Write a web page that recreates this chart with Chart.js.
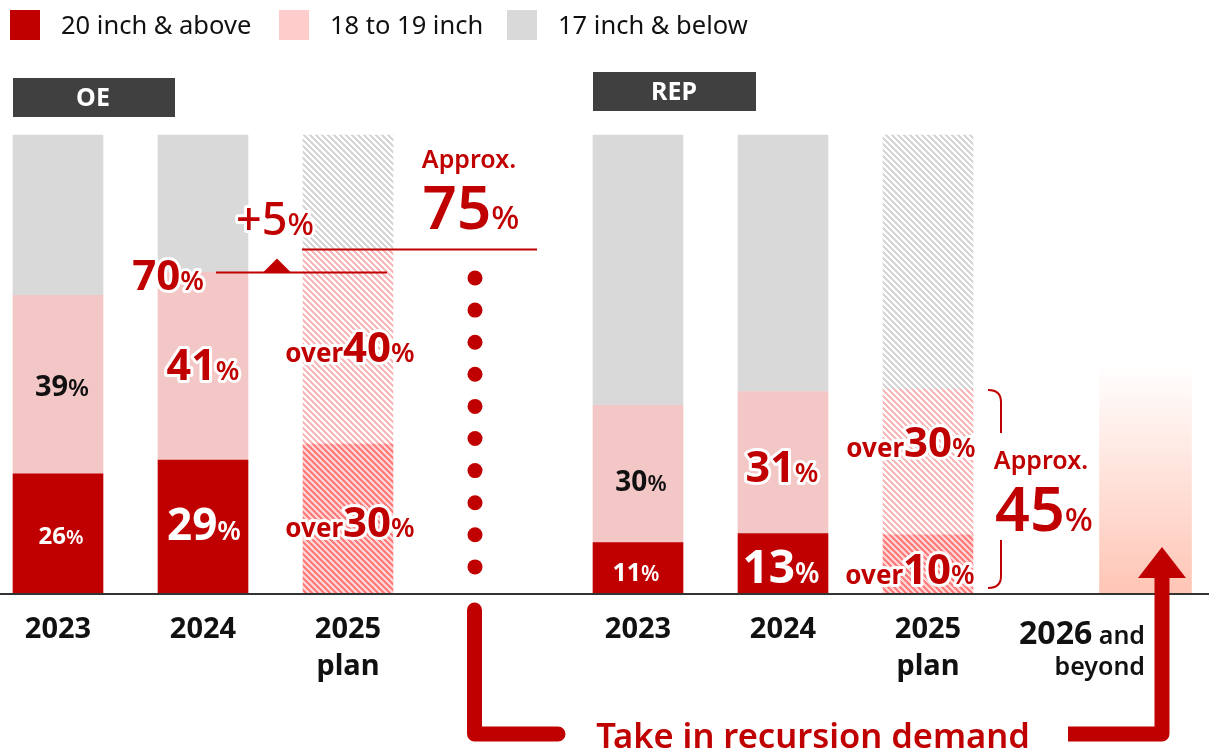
<!DOCTYPE html>
<html>
<head>
<meta charset="utf-8">
<script src="https://cdn.jsdelivr.net/npm/chart.js@4"></script>
<style>
  html, body { margin:0; padding:0; background:#fff; }
  #wrap { width:1209px; height:751px; position:relative; }
</style>
</head>
<body>
<div id="wrap"><canvas id="chart"></canvas></div>
<script>
// category slots, blanks are spacers between the groups
const xLabels = ['2023', '', '2024', '', '2025 plan', '', '', '', '2023', '', '2024', '', '2025 plan', '', '', '2026 and beyond'];
const inch20 = [26, null, 29, null, 32.5, null, null, null, 11, null, 13, null, 12.7, null, null, null];
const inch18 = [39, null, 41, null, 42.5, null, null, null, 30, null, 31, null, 31.8, null, null, null];
const inch17 = [35, null, 30, null, 25, null, null, null, 59, null, 56, null, 55.5, null, null, null];
const outlook = [null, null, null, null, null, null, null, null, null, null, null, null, null, null, null, 50];
const seriesNames = ['20 inch & above', '18 to 19 inch', '17 inch & below'];

const FONT = '"Noto Sans", "Open Sans", sans-serif';
const RED = '#C00000';

function stripes(line, bg) {
  const c = document.createElement('canvas');
  c.width = c.height = 6;
  const g = c.getContext('2d');
  for (let y = 0; y < 6; y++) {
    for (let x = 0; x < 6; x++) {
      const on = ((x - y + 12) % 6) < 3;
      if (on) { g.fillStyle = line; g.fillRect(x, y, 1, 1); }
      else if (bg) { g.fillStyle = bg; g.fillRect(x, y, 1, 1); }
    }
  }
  return g.createPattern(c, 'repeat');
}
const hatchRed = stripes('#FF7C7C', '#FFD4D4');
const hatchPink = stripes('#F6B8B8', '#FFFFFF');
const hatchGrey = stripes('#D6D6D6', '#FFFFFF');

const isPlan = i => xLabels[i] === '2025 plan';

function mixed(ctx, parts, x, y, o) {
  o = o || {};
  let total = 0;
  const w = parts.map(p => {
    ctx.font = `${p[2] || 'bold'} ${p[1]}px ${FONT}`;
    const m = ctx.measureText(p[0]).width;
    total += m;
    return m;
  });
  let cx = o.align === 'right' ? x - total : x - total / 2;
  ctx.textBaseline = 'alphabetic';
  ctx.textAlign = 'left';
  if (o.outline) {
    let sx = cx;
    ctx.strokeStyle = '#fff';
    ctx.lineWidth = 6;
    ctx.lineJoin = 'round';
    parts.forEach((p, i) => {
      ctx.font = `${p[2] || 'bold'} ${p[1]}px ${FONT}`;
      ctx.strokeText(p[0], sx, y);
      sx += w[i];
    });
  }
  ctx.fillStyle = o.color || RED;
  parts.forEach((p, i) => {
    ctx.font = `${p[2] || 'bold'} ${p[1]}px ${FONT}`;
    ctx.fillText(p[0], cx, y);
    cx += w[i];
  });
}

const extras = {
  id: 'extras',
  afterDraw(chart) {
    const ctx = chart.ctx;
    const ys = chart.scales.y;
    ctx.save();

    // legend
    const legCol = [RED, '#FFCCCC', '#D9D9D9'];
    const legX = [10, 279, 507];
    seriesNames.forEach((n, i) => {
      ctx.fillStyle = legCol[i];
      ctx.fillRect(legX[i], 10, 30, 30);
      ctx.fillStyle = '#111';
      ctx.font = `25.5px ${FONT}`;
      ctx.textAlign = 'left';
      ctx.textBaseline = 'middle';
      ctx.fillText(n, legX[i] + 51, 27);
    });

    // group headers
    ctx.fillStyle = '#404040';
    ctx.fillRect(13, 78, 162, 39);
    ctx.fillRect(593, 72, 163, 39);
    ctx.fillStyle = '#fff';
    ctx.font = `bold 25px ${FONT}`;
    ctx.textAlign = 'center';
    ctx.textBaseline = 'middle';
    ctx.fillText('OE', 93, 99);
    ctx.fillText('REP', 674, 93);

    // baseline
    ctx.strokeStyle = '#333';
    ctx.lineWidth = 2;
    ctx.beginPath();
    ctx.moveTo(0, ys.getPixelForValue(0) + 1);
    ctx.lineTo(1209, ys.getPixelForValue(0) + 1);
    ctx.stroke();

    // value labels inside bars
    mixed(ctx, [['39', 29], ['%', 24, '600']], 62, 396, { color: '#111' });
    mixed(ctx, [['26', 24], ['%', 20, '600']], 61, 544, { color: '#fff' });
    mixed(ctx, [['29', 44], ['%', 27, '600']], 204, 540, { color: '#fff' });
    mixed(ctx, [['41', 43], ['%', 27, '600']], 203, 380, { outline: true });
    mixed(ctx, [['over', 26], ['40', 42], ['%', 27, '600']], 350, 362, { outline: true });
    mixed(ctx, [['over', 26], ['30', 42], ['%', 27, '600']], 350, 537, { outline: true });
    mixed(ctx, [['30', 28], ['%', 22, '600']], 641, 491, { color: '#111' });
    mixed(ctx, [['11', 25], ['%', 21, '600']], 636, 581, { color: '#fff' });
    mixed(ctx, [['31', 43], ['%', 27, '600']], 782, 482, { outline: true });
    mixed(ctx, [['13', 46], ['%', 28, '600']], 781, 583, { color: '#fff' });
    mixed(ctx, [['over', 26], ['30', 42], ['%', 27, '600']], 911, 457, { outline: true });
    mixed(ctx, [['over', 26], ['10', 42], ['%', 27, '600']], 910, 584, { outline: true });

    // 70% -> 75% step
    const y70 = ys.getPixelForValue(70);
    const y75 = ys.getPixelForValue(75);
    ctx.strokeStyle = RED;
    ctx.lineWidth = 2;
    ctx.beginPath();
    ctx.moveTo(216, y70); ctx.lineTo(387, y70);
    ctx.moveTo(302, y75); ctx.lineTo(537, y75);
    ctx.stroke();
    ctx.fillStyle = RED;
    ctx.beginPath();
    ctx.moveTo(263, y70); ctx.lineTo(277, y70 - 14); ctx.lineTo(291, y70);
    ctx.closePath(); ctx.fill();
    mixed(ctx, [['70', 42], ['%', 27, '600']], 168, 290, { outline: true });
    mixed(ctx, [['+5', 45, '500'], ['%', 31, '500']], 275, 235, { outline: true });
    mixed(ctx, [['Approx.', 25, '600']], 469, 168);
    mixed(ctx, [['75', 60, '600'], ['%', 33, '500']], 471, 229);

    // dotted column
    ctx.fillStyle = RED;
    for (let i = 0; i < 10; i++) {
      ctx.beginPath();
      ctx.arc(475, 278 + i * 32.1, 7.5, 0, Math.PI * 2);
      ctx.fill();
    }

    // REP bracket
    ctx.strokeStyle = RED;
    ctx.lineWidth = 2;
    ctx.beginPath();
    ctx.moveTo(988, 390); ctx.quadraticCurveTo(1001, 390, 1001, 402); ctx.lineTo(1001, 433);
    ctx.moveTo(1001, 540); ctx.lineTo(1001, 576); ctx.quadraticCurveTo(1001, 588, 988, 588);
    ctx.stroke();
    mixed(ctx, [['Approx.', 25, '600']], 1041, 469);
    mixed(ctx, [['45', 61, '600'], ['%', 33, '500']], 1044, 531);

    // 2026 label
    mixed(ctx, [['2026', 32], [' and', 25, '600']], 1145, 644, { color: '#111', align: 'right' });
    mixed(ctx, [['beyond', 25, '600']], 1145, 675, { color: '#111', align: 'right' });

    // big L arrow
    ctx.strokeStyle = RED;
    ctx.lineWidth = 15;
    ctx.lineJoin = 'round';
    ctx.lineCap = 'round';
    ctx.beginPath();
    ctx.moveTo(474.5, 610); ctx.lineTo(474.5, 734); ctx.lineTo(558, 734);
    ctx.stroke();
    ctx.lineCap = 'butt';
    ctx.beginPath();
    ctx.moveTo(1068, 734); ctx.lineTo(1162, 734); ctx.lineTo(1162, 577);
    ctx.stroke();
    ctx.fillStyle = RED;
    ctx.beginPath();
    ctx.moveTo(1138, 578); ctx.lineTo(1162, 547); ctx.lineTo(1186, 578);
    ctx.closePath(); ctx.fill();
    mixed(ctx, [['Take in recursion demand', 34.5, '600']], 813, 748);

    ctx.restore();
  }
};

const ctx = document.getElementById('chart').getContext('2d');
new Chart(ctx, {
  type: 'bar',
  data: {
    labels: xLabels,
    datasets: [
      { label: seriesNames[0], data: inch20, clip: false,
        backgroundColor: c => isPlan(c.dataIndex) ? hatchRed : RED },
      { label: seriesNames[1], data: inch18, clip: false,
        backgroundColor: c => isPlan(c.dataIndex) ? hatchPink : '#F4C7C7' },
      { label: seriesNames[2], data: inch17, clip: false,
        backgroundColor: c => isPlan(c.dataIndex) ? hatchGrey : '#D9D9D9' },
      { label: '2026 and beyond', data: outlook, clip: false, barThickness: 92,
        backgroundColor: c => {
          const ch = c.chart;
          if (!ch.chartArea) return '#FFD0C4';
          const y = ch.scales.y;
          const g = ch.ctx.createLinearGradient(0, y.getPixelForValue(50), 0, y.getPixelForValue(0));
          g.addColorStop(0, 'rgba(255,255,255,1)');
          g.addColorStop(1, '#FFC5B5');
          return g;
        } }
    ]
  },
  options: {
    responsive: true,
    maintainAspectRatio: false,
    animation: false,
    layout: { padding: { top: 135, left: 21.75, right: 27.25, bottom: 0 } },
    datasets: { bar: { barThickness: 90, borderWidth: 0, categoryPercentage: 1, barPercentage: 1 } },
    plugins: { legend: { display: false }, tooltip: { enabled: false } },
    scales: {
      x: {
        stacked: true,
        grid: { display: false, drawTicks: false },
        border: { display: false },
        afterFit: s => { s.height = 158; },
        ticks: {
          autoSkip: false, maxRotation: 0, padding: 19, color: '#111',
          font: { family: FONT, size: 29, weight: 'bold', lineHeight: 1.25 },
          callback: (v, i) => {
            const l = xLabels[i];
            if (l === '2026 and beyond') return '';
            return l.indexOf(' ') > 0 ? l.split(' ') : l;
          }
        }
      },
      y: { stacked: true, display: false, min: 0, max: 100 }
    }
  },
  plugins: [extras]
});
</script>
</body>
</html>
